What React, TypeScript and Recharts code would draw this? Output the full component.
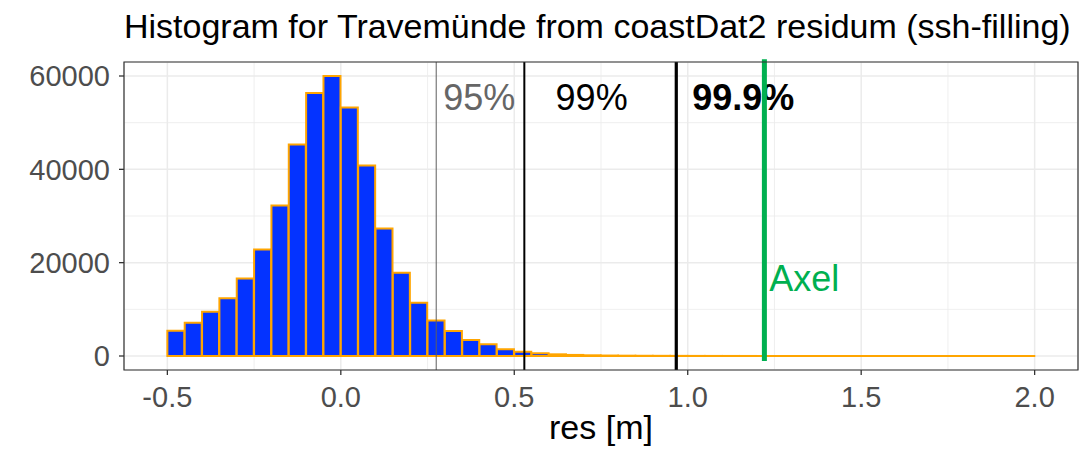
import React from 'react';
import {
  ComposedChart,
  Bar,
  XAxis,
  YAxis,
  ReferenceLine,
  ReferenceArea,
  Scatter,
  CartesianGrid,
} from 'recharts';

// ---- data ----
const binStart = -0.5;
const binWidth = 0.05;
const counts: number[] = [
  5410, 7130, 9480, 12350, 16630, 22840, 32260, 45310, 56360, 60000,
  53230, 40820, 27330, 17830, 11410, 7600, 5350, 3420, 2500, 1430,
  920, 580, 360, 230, 150, 100, 70, 50, 38, 28,
  20, 15, 11, 8, 6, 5, 4, 3, 3, 2,
  2, 1, 1, 1, 1, 1, 1, 1, 1, 1,
];
const binMids: number[] = counts.map((_, i) => +(binStart + binWidth * (i + 0.5)).toFixed(3));

const xTicks = [-0.5, 0, 0.5, 1.0, 1.5, 2.0];
const xMinor = [-0.25, 0.25, 0.75, 1.25, 1.75];
const yTicks = [0, 20000, 40000, 60000];
const yMinor = [10000, 30000, 50000];
const xDomain: [number, number] = [-0.625, 2.125];
const yDomain: [number, number] = [-3000, 63000];

const quantileNames = ['95%', '99%', '99.9%'];
const quantileValues = [0.275, 0.529, 0.967];
const quantileColors = ['#5e5e5e', '#000000', '#000000'];
const quantileWidths = [1, 2, 3.2];

const axelValue = 1.221;
const axelRange = [-1070, 63570];

const labelTexts = ['95%', '99%', '99.9%', 'Axel'];
const labelX = [0.399, 0.723, 1.16, 1.336];
const labelY = [55500, 55500, 55500, 16800];
const labelColors = ['#666666', '#000000', '#000000', '#00B050'];
const labelWeights = ['normal', 'normal', 'bold', 'normal'];

const chartData = binMids.map((x, i) => ({ x, count: counts[i] }));
const annotations = labelTexts.map((t, i) => ({
  x: labelX[i],
  y: labelY[i],
  text: t,
  color: labelColors[i],
  weight: labelWeights[i],
}));

const FONT = '"Liberation Sans", Arial, Helvetica, sans-serif';

const renderLabel = (props: any) => {
  const { cx, cy, payload } = props;
  if (cx == null || cy == null) return <g />;
  return (
    <text
      x={cx}
      y={cy}
      dy="0.36em"
      textAnchor="middle"
      fontFamily={FONT}
      fontSize={36}
      fontWeight={payload.weight}
      fill={payload.color}
    >
      {payload.text}
    </text>
  );
};

export default function App() {
  return (
    <div
      style={{
        position: 'absolute',
        left: 0,
        top: 0,
        width: 1085,
        height: 454,
        background: '#ffffff',
        fontFamily: FONT,
      }}
    >
      <div
        style={{
          position: 'absolute',
          left: 124,
          top: 9,
          fontSize: 34,
          lineHeight: '34px',
          color: '#000',
          whiteSpace: 'nowrap',
          fontFamily: FONT,
        }}
      >
        Histogram for Travemünde from coastDat2 residum (ssh-filling)
      </div>
      <ComposedChart
        width={1085}
        height={454}
        data={chartData}
        margin={{ top: 62, right: 7, bottom: 0, left: 0 }}
        barCategoryGap={0}
        barGap={0}
        style={{ position: 'absolute', left: 0, top: 0 }}
      >
        <CartesianGrid stroke="#EBEBEB" strokeWidth={1.5} />
        <XAxis
          type="number"
          dataKey="x"
          domain={xDomain}
          ticks={xTicks}
          allowDataOverflow
          height={84}
          axisLine={false}
          tickSize={5}
          tickMargin={11}
          tickLine={{ stroke: '#333333', strokeWidth: 1.3 }}
          tick={{ fill: '#4D4D4D', fontSize: 29, fontFamily: FONT }}
          tickFormatter={(v: number) => v.toFixed(1)}
          interval={0}
          label={{
            value: 'res [m]',
            position: 'insideBottom',
            offset: 15,
            fontSize: 34,
            fill: '#000000',
            fontFamily: FONT,
          }}
        />
        <XAxis xAxisId="ann" type="number" dataKey="x" domain={xDomain} allowDataOverflow hide />
        <YAxis
          type="number"
          domain={yDomain}
          ticks={yTicks}
          allowDataOverflow
          width={124}
          axisLine={false}
          tickSize={5}
          tickMargin={9}
          tickLine={{ stroke: '#333333', strokeWidth: 1.3 }}
          tick={{ fill: '#4D4D4D', fontSize: 29, fontFamily: FONT }}
          interval={0}
        />
        {xMinor.map((v) => (
          <ReferenceLine key={'xm' + v} x={v} stroke="#EBEBEB" strokeWidth={0.8} zIndex={-100} />
        ))}
        {yMinor.map((v) => (
          <ReferenceLine key={'ym' + v} y={v} stroke="#EBEBEB" strokeWidth={0.8} zIndex={-100} />
        ))}
        <Bar
          dataKey="count"
          fill="#0433FF"
          stroke="#FFA500"
          strokeWidth={2}
          isAnimationActive={false}
        />
        {quantileValues.map((v, i) => (
          <ReferenceLine
            key={quantileNames[i]}
            x={v}
            stroke={quantileColors[i]}
            strokeWidth={quantileWidths[i]}
            zIndex={500}
          />
        ))}
        <Scatter
          xAxisId="ann"
          data={annotations}
          dataKey="y"
          shape={renderLabel}
          isAnimationActive={false}
          zIndex={600}
        />
        <ReferenceLine
          segment={[
            { x: axelValue, y: axelRange[0] },
            { x: axelValue, y: axelRange[1] },
          ]}
          stroke="#00B050"
          strokeWidth={5}
          ifOverflow="visible"
          zIndex={700}
        />
        <ReferenceArea
          x1={xDomain[0]}
          x2={xDomain[1]}
          y1={yDomain[0]}
          y2={yDomain[1]}
          fill="none"
          fillOpacity={0}
          stroke="#333333"
          strokeWidth={1.2}
          zIndex={800}
        />
      </ComposedChart>
    </div>
  );
}
